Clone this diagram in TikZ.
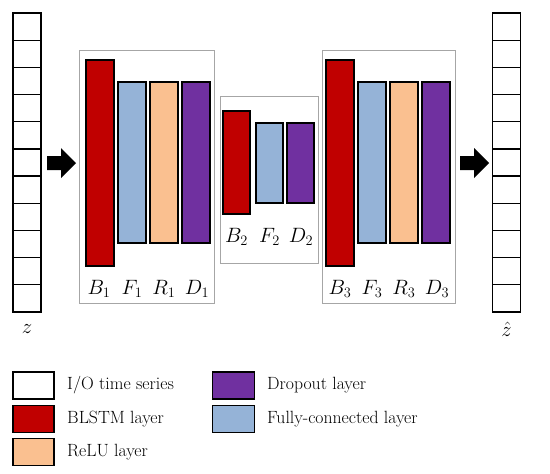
\documentclass[tikz,border=0pt]{standalone}
\usepackage{fontspec}
\definecolor{blstm}{HTML}{C00000}
\definecolor{fc}{HTML}{95B3D7}
\definecolor{relu}{HTML}{FAC090}
\definecolor{drop}{HTML}{7030A0}
\definecolor{grp}{HTML}{A6A6A6}
\begin{document}
\begin{tikzpicture}[x=1pt,y=-1pt,
  bar/.style={draw=black,line width=1.1pt,inner sep=0pt,minimum width=28pt},
  grpbox/.style={draw=grp,line width=0.9pt,inner sep=0pt},
  cell/.style={draw=black,line width=1.2pt,fill=white,inner sep=0pt,minimum width=28pt,minimum height=27.18pt},
  lab/.style={inner sep=0pt,font=\fontsize{21}{23}\selectfont},
  legbox/.style={draw=black,line width=1.2pt,inner sep=0pt,minimum width=41pt,minimum height=27pt},
  legtxt/.style={anchor=west,inner sep=0pt,font=\fontsize{17.7}{19}\selectfont},
  blockarrow/.style={fill=black}]
\useasboundingbox (0,0) rectangle (550,474);
% group boxes
\node[grpbox,minimum width=135pt,minimum height=253pt] (G1) at (146.5,176.5) {};
\node[grpbox,minimum width=98pt,minimum height=167pt] (G2) at (269,179.5) {};
\node[grpbox,minimum width=133pt,minimum height=253pt] (G3) at (388.5,176.5) {};
% I/O columns
\foreach \i in {1,...,11}{
  \node[cell] (zin\i) at (27,{13+27.18*(\i-0.5)}) {};
  \node[cell] (zout\i) at (506.5,{13+27.18*(\i-0.5)}) {};
}
\node[lab] (zlab) at (27,329) {$z$};
\node[lab] (zhatlab) at (506.5,329) {$\hat{z}$};
% block arrows
\fill[blockarrow] (47,156) -- (61,156) -- (61,148) -- (76,163) -- (61,178) -- (61,170) -- (47,170) -- cycle;
\fill[blockarrow] (460,156) -- (474,156) -- (474,148) -- (489,163) -- (474,178) -- (474,170) -- (460,170) -- cycle;
% group 1
\node[bar,fill=blstm,minimum height=206pt] (B1) at (100,163) {};
\node[bar,fill=fc,minimum height=161pt] (F1) at (132,162.5) {};
\node[bar,fill=relu,minimum height=161pt] (R1) at (164,162.5) {};
\node[bar,fill=drop,minimum height=161pt] (D1) at (196,162.5) {};
\node[lab] (lB1) at (99,289) {$B_1$};
\node[lab] (lF1) at (132,289) {$F_1$};
\node[lab] (lR1) at (164,289) {$R_1$};
\node[lab] (lD1) at (197,289) {$D_1$};
% group 2
\node[bar,fill=blstm,minimum width=27pt,minimum height=103pt] (B2) at (236.5,162.5) {};
\node[bar,fill=fc,minimum width=27pt,minimum height=80pt] (F2) at (269.5,163) {};
\node[bar,fill=drop,minimum width=27pt,minimum height=80pt] (D2) at (300.5,163) {};
\node[lab] (lB2) at (236.5,237) {$B_2$};
\node[lab] (lF2) at (269.5,237) {$F_2$};
\node[lab] (lD2) at (301,237) {$D_2$};
% group 3
\node[bar,fill=blstm,minimum height=206pt] (B3) at (340,163) {};
\node[bar,fill=fc,minimum height=161pt] (F3) at (372,162.5) {};
\node[bar,fill=relu,minimum height=161pt] (R3) at (404,162.5) {};
\node[bar,fill=drop,minimum height=161pt] (D3) at (436,162.5) {};
\node[lab] (lB3) at (340,289) {$B_3$};
\node[lab] (lF3) at (372,289) {$F_3$};
\node[lab] (lR3) at (404,289) {$R_3$};
\node[lab] (lD3) at (437,289) {$D_3$};
% legend
\node[legbox,fill=white] (k1) at (33.5,385.5) {};
\node[legbox,fill=blstm] (k2) at (33.5,419) {};
\node[legbox,fill=relu] (k3) at (33.5,452) {};
\node[legbox,fill=drop,minimum width=42pt] (k4) at (233.5,385.5) {};
\node[legbox,fill=fc,minimum width=42pt] (k5) at (233.5,419) {};
\node[legtxt] (t1) at (67,385.5) {I/O time series};
\node[legtxt] (t2) at (67,419) {BLSTM layer};
\node[legtxt] (t3) at (67,452) {ReLU layer};
\node[legtxt] (t4) at (267,385.5) {Dropout layer};
\node[legtxt] (t5) at (267,419) {Fully-connected layer};
\end{tikzpicture}
\end{document}
